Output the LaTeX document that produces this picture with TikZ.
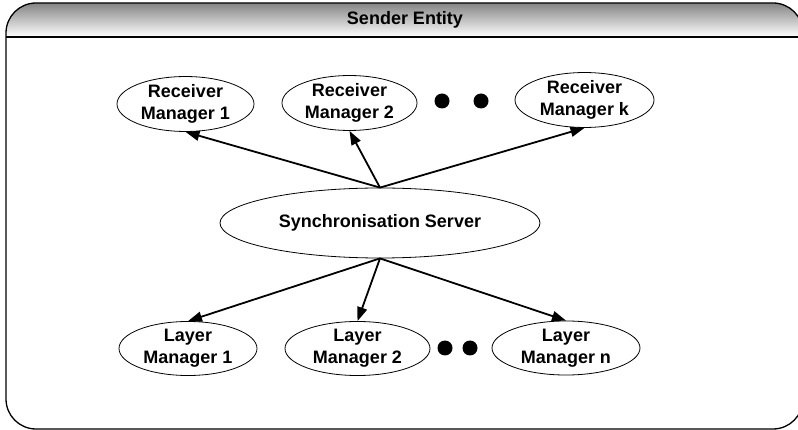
\documentclass[tikz,border=0pt]{standalone}
\usepackage{fontspec}
\setmainfont{Liberation Sans}
\usetikzlibrary{shapes.geometric,arrows.meta}

\tikzset{
  entity/.style={ellipse, draw, line width=0.8pt, inner sep=0pt, align=center,
                 font=\fontsize{18}{22}\selectfont\bfseries},
  link/.style={line width=1.8pt, -{Triangle[length=14pt,width=10pt]}},
  dot/.style={circle, fill=black, inner sep=0pt, minimum size=15pt},
  frame/.style={line width=1.3pt, rounded corners=30pt}
}

\begin{document}
\begin{tikzpicture}[x=1pt, y=-1pt]
  \useasboundingbox (0,0) rectangle (798,430);
  \clip (0,0) rectangle (798,430);

  % outer container with shaded title band
  \begin{scope}
    \clip[rounded corners=30pt] (6,3) rectangle (803,429);
    \shade[top color=black!48, bottom color=white] (6,3) rectangle (803,37);
  \end{scope}
  \draw[frame] (6,3) rectangle (803,429);
  \coordinate (bandL) at (6,37);
  \coordinate (bandR) at (803,37);
  \draw[line width=1.3pt] (bandL) -- (bandR);
  \node[font=\fontsize{18}{22}\selectfont\bfseries] (title) at (405,20) {Sender Entity};

  % receiver managers
  \node[entity, minimum width=137pt, minimum height=48pt] (rm1) at (185.5,104) {Receiver\\Manager 1};
  \node[entity, minimum width=135pt, minimum height=50pt] (rm2) at (349.5,103) {Receiver\\Manager 2};
  \node[entity, minimum width=139pt, minimum height=54pt] (rmk) at (584.5,100) {Receiver\\Manager k};
  \node[dot] (td1) at (442,101) {};
  \node[dot] (td2) at (481,101) {};

  % synchronisation server
  \node[entity, minimum width=320pt, minimum height=70pt] (sync) at (380,223) {Synchronisation Server};

  % layer managers
  \node[entity, minimum width=138pt, minimum height=53pt] (lm1) at (188,348.5) {Layer\\Manager 1};
  \node[entity, minimum width=145pt, minimum height=53pt] (lm2) at (357.5,348.5) {Layer\\Manager 2};
  \node[entity, minimum width=148pt, minimum height=54pt] (lmn) at (566,348) {Layer\\Manager n};
  \node[dot] (bd1) at (445,348) {};
  \node[dot] (bd2) at (470,348) {};

  % connectors
  \draw[link] (sync.north) -- (rm1.south);
  \draw[link] (sync.north) -- (rm2.south);
  \draw[link] (sync.north) -- (rmk.south);
  \draw[link] (sync.south) -- (lm1.north);
  \draw[link] (sync.south) -- (lm2.north);
  \draw[link] (sync.south) -- (lmn.north);
\end{tikzpicture}
\end{document}
